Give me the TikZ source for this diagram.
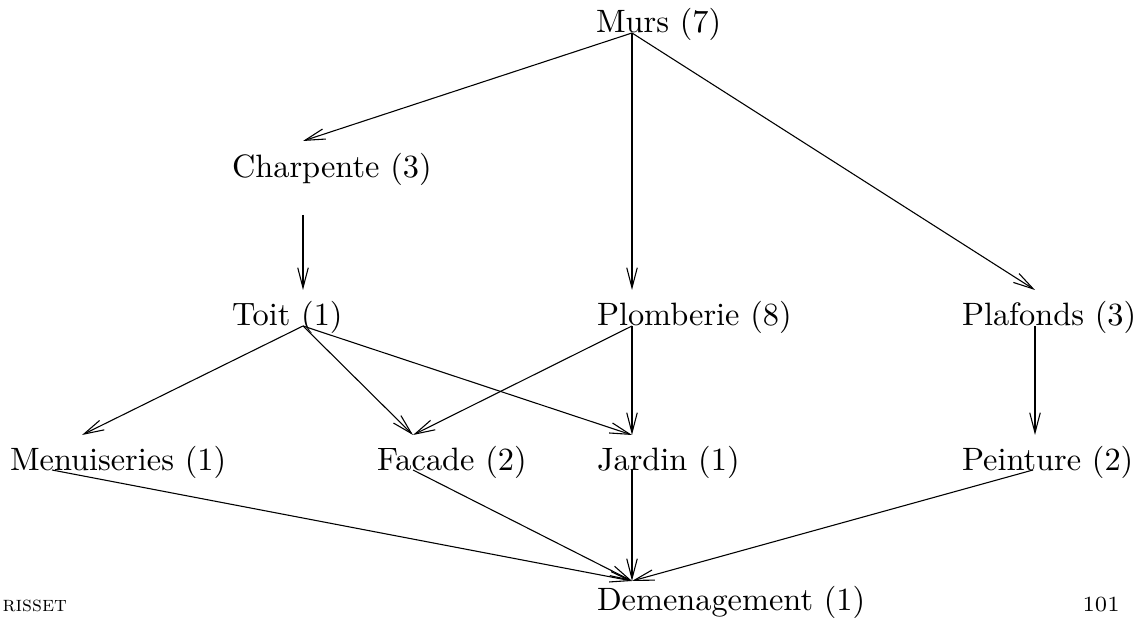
\documentclass[tikz,border=0pt]{standalone}
\usetikzlibrary{arrows.meta}
\begin{document}
\begin{tikzpicture}[x=0.323pt,y=-0.323pt,
  lbl/.style={anchor=base west,inner sep=0pt,outer sep=0pt,font=\fontsize{10.45}{12.5}\selectfont},
  foot/.style={anchor=base west,inner sep=0pt,font=\scriptsize},
  edge/.style={line width=0.35pt,-{Straight Barb[length=6.5pt,width=3.4pt,line width=0.35pt]}}]
\useasboundingbox (0,0) rectangle (1139,628);
% labels
\node[lbl] (murs) at (596,33) {Murs (7)};
\node[lbl] (charp) at (232,178) {Charpente (3)};
\node[lbl] (toit) at (232,326) {Toit (1)};
\node[lbl] (plomb) at (597,326) {Plomberie (8)};
\node[lbl] (plaf) at (962,326) {Plafonds (3)};
\node[lbl] (menu) at (10,471) {Menuiseries (1)};
\node[lbl] (fac) at (377,471) {Facade (2)};
\node[lbl] (jard) at (597,471) {Jardin (1)};
\node[lbl] (pein) at (962,471) {Peinture (2)};
\node[lbl] (dem) at (597,611) {Demenagement (1)};
\node[foot] (risset) at (2,612) {\textsc{risset}};
\node[foot] (page) at (1082,612) {101};
% attachment points
\coordinate (murs-o) at (632,33);
\coordinate (charp-i) at (303,141);
\coordinate (charp-o) at (303,215);
\coordinate (toit-i) at (303,290);
\coordinate (toit-o) at (303,326);
\coordinate (plomb-i) at (632,290);
\coordinate (plomb-o) at (632,326);
\coordinate (plaf-i) at (1035,290);
\coordinate (plaf-o) at (1035,326);
\coordinate (menu-i) at (82,435);
\coordinate (menu-o) at (52,470);
\coordinate (fac-i) at (413,435);
\coordinate (fac-o) at (413,470);
\coordinate (jard-i) at (632,435);
\coordinate (jard-o) at (632,470);
\coordinate (pein-i) at (1035,435);
\coordinate (pein-o) at (1033,470);
\coordinate (dem-i) at (632,581);
% connectors
\draw[edge] (murs-o) -- (charp-i);
\draw[edge] (murs-o) -- (plomb-i);
\draw[edge] (murs-o) -- (plaf-i);
\draw[edge] (charp-o) -- (toit-i);
\draw[edge] (toit-o) -- (menu-i);
\draw[edge] (toit-o) -- (fac-i);
\draw[edge] (toit-o) -- (jard-i);
\draw[edge] (plomb-o) -- (fac-i);
\draw[edge] (plomb-o) -- (jard-i);
\draw[edge] (plaf-o) -- (pein-i);
\draw[edge] (menu-o) -- (dem-i);
\draw[edge] (fac-o) -- (dem-i);
\draw[edge] (jard-o) -- (dem-i);
\draw[edge] (pein-o) -- (dem-i);
\end{tikzpicture}
\end{document}
